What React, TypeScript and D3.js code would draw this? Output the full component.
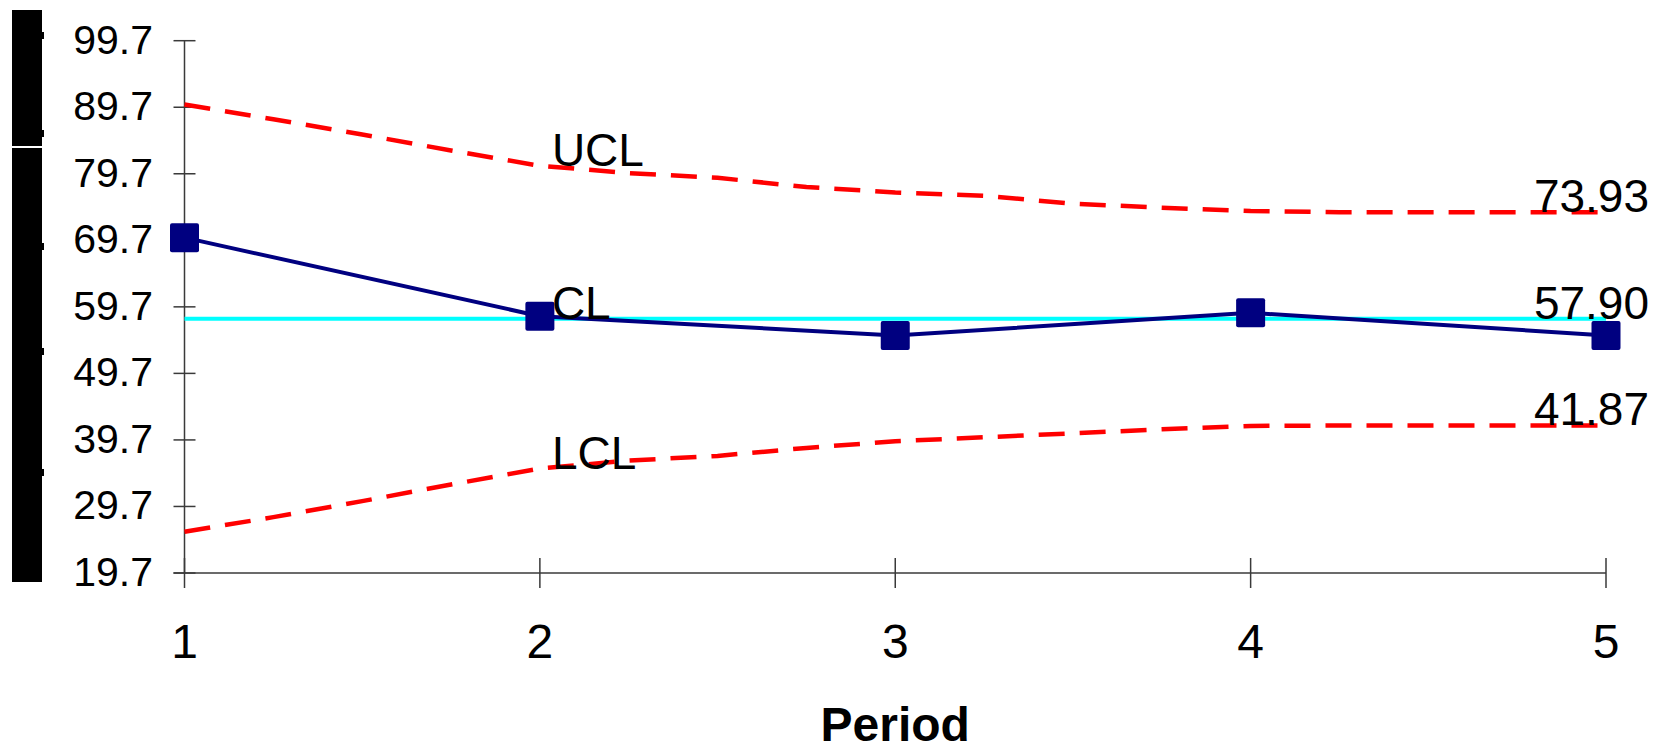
import React from "react";
import * as d3 from "d3";

// Observations per period
const periods = [1, 2, 3, 4, 5];
const measured = [70.1, 58.3, 55.4, 58.8, 55.4];
const centerLine = 57.9;

// Control limits, sampled every quarter period
const limitSteps = [1, 1.25, 1.5, 1.75, 2, 2.25, 2.5, 2.75, 3, 3.25, 3.5, 3.75, 4, 4.25, 4.5, 4.75, 5];
const upperLimit = [90.1, 87.9, 85.6, 83.2, 80.9, 79.8, 79.1, 77.7, 76.9, 76.4, 75.2, 74.6, 74.1, 73.93, 73.93, 73.93, 73.93];
const lowerLimit = [25.9, 28.1, 30.5, 33.0, 35.4, 36.6, 37.3, 38.5, 39.5, 40.1, 40.7, 41.3, 41.8, 41.87, 41.87, 41.87, 41.87];

const yTicks = [19.7, 29.7, 39.7, 49.7, 59.7, 69.7, 79.7, 89.7, 99.7];
const xTitle = "Period";

const FONT = "'Liberation Sans', Arial, Helvetica, sans-serif";

export default function App() {
  const width = 1674;
  const height = 752;
  const x = d3.scaleLinear().domain([1, 5]).range([184.5, 1606]);
  const y = d3.scaleLinear().domain([19.7, 99.7]).range([573, 40.7]);

  const limitLine = d3
    .line<number>()
    .x((_, i) => x(limitSteps[i]))
    .y((d) => y(d));
  const dataLine = d3
    .line<number>()
    .x((_, i) => x(periods[i]))
    .y((d) => y(d));

  const axisColor = "#3a3a3a";
  const last = limitSteps.length - 1;
  const p2 = limitSteps.indexOf(2);

  return (
    <svg
      width={width}
      height={height}
      style={{ position: "absolute", left: 0, top: 0, background: "#fff" }}
      fontFamily={FONT}
    >
      <rect x={0} y={0} width={width} height={height} fill="#fff" />

      {/* rotated axis title block on the far left */}
      <rect x={12} y={10} width={30} height={572} fill="#000" />
      <rect x={12} y={146} width={30} height={2} fill="#fff" />
      {[32, 130, 243, 348, 469].map((t) => (
        <rect key={t} x={42} y={t} width={2} height={7} fill="#000" />
      ))}

      {/* y axis */}
      <line x1={x(1)} x2={x(1)} y1={y(99.7)} y2={y(19.7)} stroke={axisColor} strokeWidth={1.5} />
      {yTicks.map((t) => (
        <g key={t}>
          <line x1={x(1) - 11} x2={x(1) + 11} y1={y(t)} y2={y(t)} stroke={axisColor} strokeWidth={1.5} />
          <text x={153} y={y(t) + 13} fontSize={41} textAnchor="end" fill="#000">
            {t.toFixed(1)}
          </text>
        </g>
      ))}

      {/* x axis */}
      <line x1={x(1) - 11} x2={x(5)} y1={y(19.7)} y2={y(19.7)} stroke={axisColor} strokeWidth={1.5} />
      {periods.map((p) => (
        <g key={p}>
          <line x1={x(p)} x2={x(p)} y1={y(19.7) - 15} y2={y(19.7) + 15} stroke={axisColor} strokeWidth={1.5} />
          <text x={x(p)} y={658} fontSize={48} textAnchor="middle" fill="#000">
            {p}
          </text>
        </g>
      ))}
      <text x={(x(1) + x(5)) / 2} y={741} fontSize={48} fontWeight="bold" textAnchor="middle" fill="#000">
        {xTitle}
      </text>

      {/* control limits */}
      <path d={limitLine(upperLimit) ?? ""} fill="none" stroke="#ff0000" strokeWidth={4.5} strokeDasharray="26 15" />
      <path d={limitLine(lowerLimit) ?? ""} fill="none" stroke="#ff0000" strokeWidth={4.5} strokeDasharray="26 15" />

      {/* centre line */}
      <line x1={x(1)} x2={x(5)} y1={y(centerLine)} y2={y(centerLine)} stroke="#00ffff" strokeWidth={4} />

      {/* observations */}
      <path d={dataLine(measured) ?? ""} fill="none" stroke="#000080" strokeWidth={4} />
      {measured.map((v, i) => (
        <rect
          key={i}
          x={x(periods[i]) - 14.5}
          y={y(v) - 14.5}
          width={29}
          height={29}
          rx={2}
          fill="#000080"
        />
      ))}

      {/* limit names */}
      <text x={x(2) + 12} y={y(upperLimit[p2])} fontSize={46} fill="#000">UCL</text>
      <text x={x(2) + 12} y={y(centerLine)} fontSize={46} fill="#000">CL</text>
      <text x={x(2) + 12} y={y(lowerLimit[p2])} fontSize={46} fill="#000">LCL</text>

      {/* limit values at the last period */}
      <text x={x(5) + 43} y={y(upperLimit[last])} fontSize={46} textAnchor="end" fill="#000">
        {upperLimit[last].toFixed(2)}
      </text>
      <text x={x(5) + 43} y={y(centerLine)} fontSize={46} textAnchor="end" fill="#000">
        {centerLine.toFixed(2)}
      </text>
      <text x={x(5) + 43} y={y(lowerLimit[last])} fontSize={46} textAnchor="end" fill="#000">
        {lowerLimit[last].toFixed(2)}
      </text>
    </svg>
  );
}
